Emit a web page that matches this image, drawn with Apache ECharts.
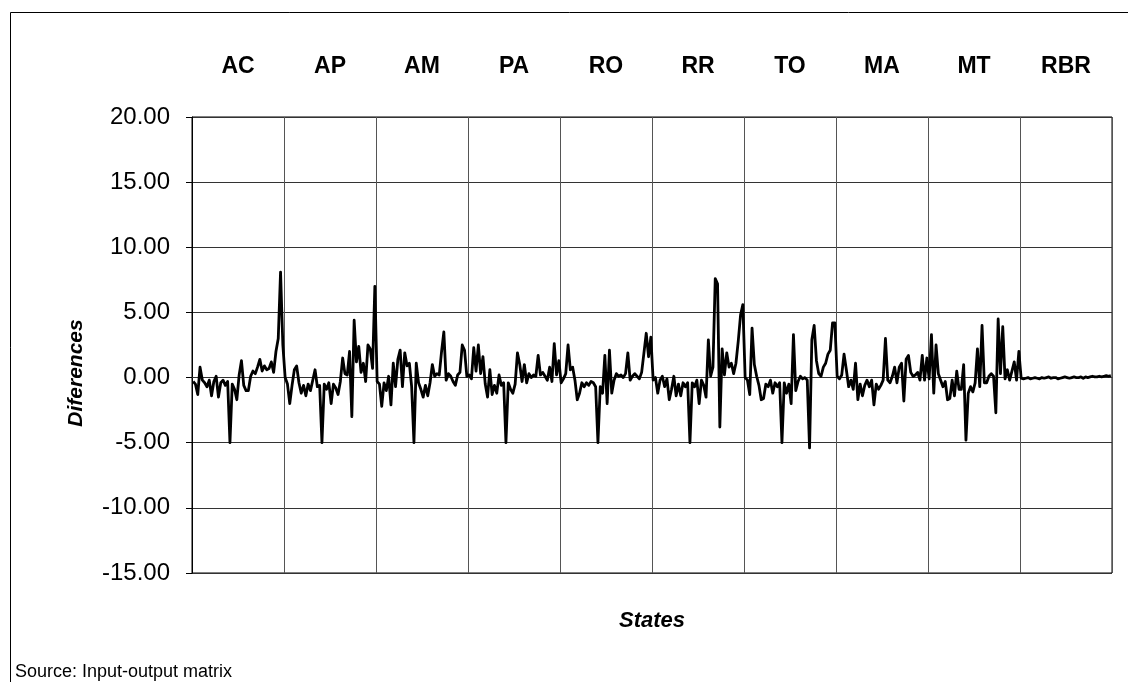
<!DOCTYPE html>
<html>
<head>
<meta charset="utf-8">
<title>Diferences by state</title>
<script src="https://cdn.jsdelivr.net/npm/echarts@6.0.0/dist/echarts.min.js"></script>
<style>
  html, body { margin: 0; padding: 0; background: #fff; }
  #chart { width: 1128px; height: 682px; }
</style>
</head>
<body>
<div id="chart"></div>
<script>
  // states, in the order of the input-output matrix
  var states = ['AC', 'AP', 'AM', 'PA', 'RO', 'RR', 'TO', 'MA', 'MT', 'RBR']

  // differences per sector, one array per state
  var ac = [-0.3, -0.5, -1.3, 0.8, -0.2, -0.4, -0.7, -0.2, -1.4, -0.3, 0.1, -1.5, -0.4, -0.2, -0.6, -0.3, -5.0, -0.5, -0.9, -1.7,
    0.2, 1.3, -0.6, -1.0, -1.0, 0.1, 0.5, 0.3, 0.8, 1.4, 0.5, 0.9, 0.6, 0.7, 1.2, 0.4, 2.0, 3.0, 8.1, 2.5]
  var ap = [0.0, -0.5, -2.0, -0.6, 0.6, 0.9, -0.4, -1.2, -0.6, -1.4, -0.5, -1.0, -0.2, 0.6, -0.7, -0.6, -5.0, -0.5, -0.9, -0.4,
    -2.0, -0.5, -0.8, -1.3, -0.3, 1.5, 0.3, 0.2, 2.0, -3.0, 4.4, 1.2, 2.4, 0.4, 1.1, -0.3, 2.5, 2.2, 0.7, 7.0]
  var am = [-0.3, -0.5, -2.2, -0.4, -1.0, 0.1, -2.1, 1.1, -0.7, 1.4, 2.1, -0.7, 1.9, 0.9, 1.1, -0.7, -5.0, 1.1, -0.4, -0.9,
    -1.5, -0.6, -1.4, -0.4, 1.0, 0.1, 0.3, 0.2, 2.0, 3.5, -0.2, 0.3, 0.1, -0.3, -0.6, 0.2, 0.4, 2.5, 2.1, 0.1]
  var pa = [0.2, -0.1, 2.3, 0.5, 2.5, 0.3, 1.6, -0.5, -1.5, 0.6, -1.3, -0.6, -1.2, 0.2, -0.6, -0.4, -5.0, -0.4, -0.9, -1.2,
    -0.5, 1.9, 1.0, -0.3, 1.0, -0.4, 0.3, 0.0, 0.2, 0.1, 1.7, 0.2, 0.4, 0.1, -0.2, 0.8, -0.3, 2.6, 0.2, 1.3]
  var ro = [-0.4, -0.1, 0.3, 2.5, 0.6, 0.8, -0.2, -1.7, -1.2, -0.4, -0.7, -0.4, -0.6, -0.3, -0.4, -0.7, -5.0, -0.7, -1.2, 1.7,
    -2.0, 2.1, -1.2, -0.2, 0.3, 0.1, 0.2, 0.0, 0.3, 1.9, -0.2, 0.1, 0.3, 0.1, -0.1, 0.4, 1.9, 3.4, 1.6, 3.1]
  var rr = [-0.2, 0.0, -1.2, -0.2, 0.1, -0.7, -0.1, -1.7, -0.9, 0.1, -1.4, -0.5, -1.4, -0.4, -0.7, -0.4, -5.0, -0.4, -0.7, -0.2,
    -2.0, -0.2, -0.6, -1.5, 2.9, 0.1, 0.8, 7.6, 7.2, -3.8, 2.2, 0.2, 1.9, 0.8, 1.1, 0.3, 1.1, 2.8, 4.8, 5.6]
  var to = [0.0, -0.2, -1.3, 3.8, 1.0, 0.1, -0.6, -1.7, -1.6, -0.5, -0.7, -0.2, -1.2, -0.4, -0.7, -0.4, -5.0, -0.4, -1.2, -0.5,
    -2.0, 3.3, -1.0, -0.3, 0.1, -0.1, 0.0, -0.2, -5.4, 2.9, 4.0, 1.3, 0.3, 0.1, 0.8, 1.1, 1.8, 2.1, 4.2, 4.2]
  var ma = [0.1, -0.1, 0.2, 1.8, 0.6, -0.7, -0.2, -0.9, 1.1, -1.7, -0.5, -1.4, -0.6, -0.2, -0.7, -0.2, -2.1, -0.5, -0.9, -0.6,
    -0.2, 3.0, -0.2, -0.4, 0.1, 0.8, -0.4, 0.8, 1.1, -1.8, 1.4, 1.7, 0.4, 0.1, 0.2, 0.4, -0.2, 1.7, -0.2, 1.5]
  var mt = [-0.1, 3.3, -1.2, 2.5, 0.3, -0.2, -0.7, -0.3, -1.7, -1.6, -0.2, -1.4, 0.5, -0.9, -0.9, 1.0, -4.8, -1.2, -0.7, -1.1,
    -0.4, 2.2, -0.7, 4.0, -0.4, -0.4, 0.1, 0.3, 0.1, -2.7, 4.5, 0.3, 3.9, -0.1, 0.6, -0.2, 0.5, 1.2, -0.2, 2.0]
  var rbr = [-0.05, -0.1, -0.05, 0.0, -0.1, -0.05, 0.0, -0.05, -0.1, 0.0, -0.05, 0.0, 0.05, -0.05, 0.0, 0.0, -0.1, -0.05, 0.0, 0.05,
    0.0, -0.05, 0.0, 0.05, 0.0, 0.0, 0.05, -0.05, 0.05, 0.0, 0.05, 0.1, 0.05, 0.05, 0.1, 0.05, 0.1, 0.15, 0.1, 0.15]

  var byState = [ac, ap, am, pa, ro, rr, to, ma, mt, rbr]

  // y axis
  var yMin = -15
  var yMax = 20
  var yStep = 5

  var font = '"Liberation Sans", Arial, Helvetica, sans-serif'

  // one category per sector, state blocks one after the other
  var sectors = []
  var values = []
  byState.forEach(function(arr, s) {
    arr.forEach(function(v, k) {
      sectors.push(states[s] + '-' + (k + 1))
      values.push(v)
    })
  })
  var perState = ac.length

  var myChart = echarts.init(document.getElementById('chart'), null, { renderer: 'canvas' })
  myChart.setOption({
    animation: false,
    backgroundColor: '#fff',
    textStyle: { fontFamily: font, color: '#000' },
    grid: {
      left: 192,
      right: 16,
      top: 117,
      bottom: 109,
      show: true,
      borderColor: '#000',
      borderWidth: 1
    },
    xAxis: [
      {
        type: 'category',
        data: sectors,
        boundaryGap: true,
        name: 'States',
        nameLocation: 'middle',
        nameGap: 37,
        nameTextStyle: { fontSize: 22, fontWeight: 'bold', fontStyle: 'italic', color: '#000', fontFamily: font },
        axisLine: { show: true, lineStyle: { color: '#333', width: 1 } },
        axisTick: { show: false },
        axisLabel: { show: false },
        splitLine: {
          show: true,
          interval: function(index) { return index % perState === 0 },
          lineStyle: { color: '#555', width: 1 }
        }
      },
      {
        type: 'category',
        data: states,
        position: 'top',
        boundaryGap: true,
        axisLine: { show: false },
        axisTick: { show: false },
        splitLine: { show: false },
        axisLabel: {
          interval: 0,
          margin: 39,
          fontSize: 23,
          fontWeight: 'bold',
          color: '#000',
          fontFamily: font
        }
      }
    ],
    yAxis: {
      type: 'value',
      min: yMin,
      max: yMax,
      interval: yStep,
      axisLine: { show: true, lineStyle: { color: '#000', width: 1 } },
      axisTick: { show: true, inside: false, length: 6, lineStyle: { color: '#000' } },
      axisLabel: {
        margin: 22,
        fontSize: 24,
        color: '#000',
        fontFamily: font,
        formatter: function(v) { return v.toFixed(2) }
      },
      splitLine: { show: true, lineStyle: { color: '#333', width: 1 } }
    },
    series: [
      {
        type: 'line',
        xAxisIndex: 0,
        data: values,
        symbol: 'none',
        smooth: false,
        lineStyle: { color: '#000', width: 2.8, join: 'round' },
        z: 5
      }
    ],
    graphic: [
      // frame of the figure (only top and left edges show)
      {
        type: 'polyline',
        shape: { points: [[10.5, 682], [10.5, 12.5], [1128, 12.5]] },
        style: { stroke: '#000', lineWidth: 1, fill: null }
      },
      {
        type: 'text',
        x: 76,
        y: 373,
        rotation: Math.PI / 2,
        style: {
          text: 'Diferences',
          fontSize: 21,
          fontWeight: 'bold',
          fontStyle: 'italic',
          fontFamily: font,
          fill: '#000',
          align: 'center',
          verticalAlign: 'middle'
        }
      },
      {
        type: 'text',
        x: 15,
        y: 672,
        style: {
          text: 'Source: Input-output matrix',
          fontSize: 18,
          fontFamily: font,
          fill: '#000',
          align: 'left',
          verticalAlign: 'middle'
        }
      }
    ]
  })

  window.addEventListener('resize', function() {
    myChart.resize()
  })
</script>
</body>
</html>
